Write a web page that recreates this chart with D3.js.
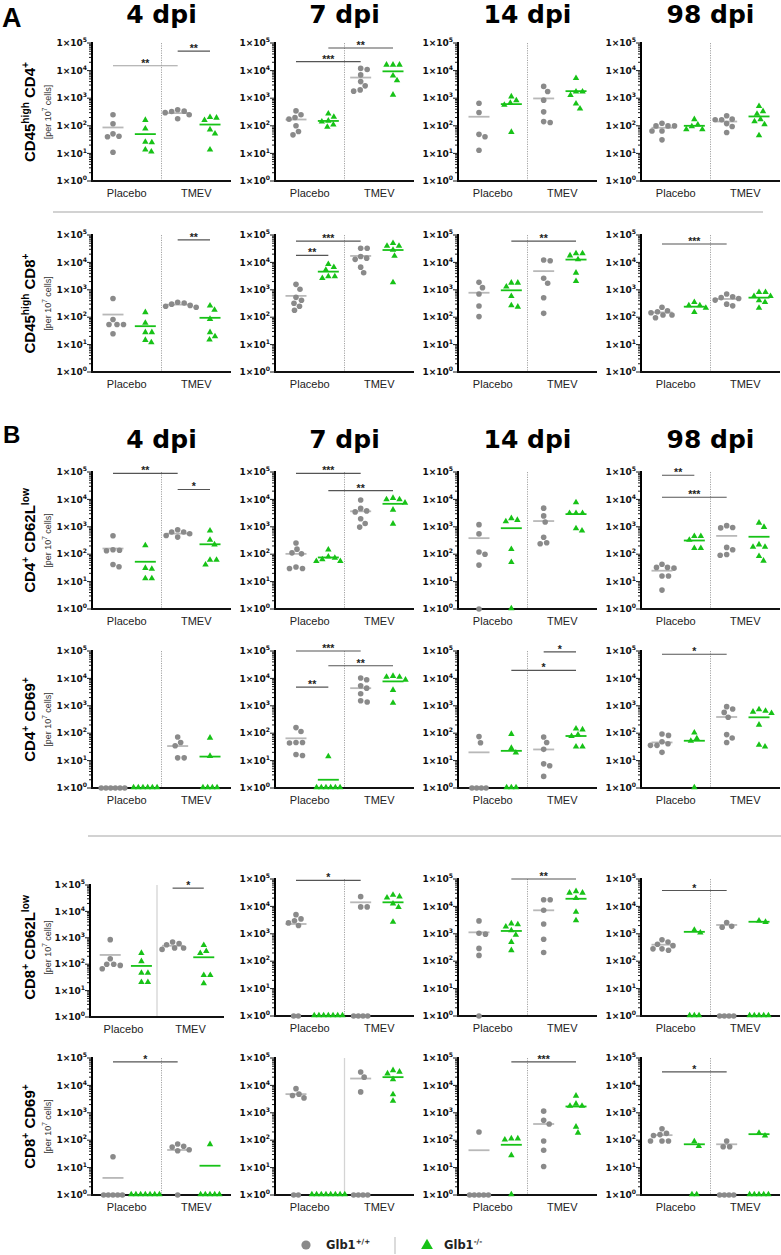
<!DOCTYPE html>
<html><head><meta charset="utf-8">
<script src="https://cdn.jsdelivr.net/npm/d3@7"></script>
<style>body{margin:0;background:#fff}svg{display:block}</style>
</head><body>
<svg id="c" width="781" height="1255"></svg>
<script>
// ---------------- DATA ----------------
const dpiLabels = ["4 dpi", "7 dpi", "14 dpi", "98 dpi"];
const treatments = ["Placebo", "TMEV"];
const genotypes = ["Glb1", "Glb1"];
const genotypeSup = ["+/+", "-/-"];
const yTickExponents = [0, 1, 2, 3, 4, 5];
const panelLetters = ["A", "B"];
// group order in every panel: [Glb1+/+ Placebo, Glb1-/- Placebo, Glb1+/+ TMEV, Glb1-/- TMEV]; 0 = not detected
const cd45hiCD4 = [
  [[250,118,51,42,40,11],[155,75,25,24,13,11],[330,300,340,380,250,180],[187,153,196,70,50,13]],
  [[347,200,174,250,100,62,47],[263,200,145,135,105,87],[11000,12000,7000,4000,2800,2000,1800],[15500,15500,15500,6300,4200,1270]],
  [[660,302,49,40,13],[1100,800,650,550,57],[2680,1750,850,320,142,131],[5130,1660,1660,1230,610,400]],
  [[99,99,124,99,65,65,31],[165,105,91,71,71],[230,174,165,165,120,94,57],[490,322,257,165,139,108,43]]
];
const cd45hiCD4Means = [[87,50,288,111],[169,150,5600,9400],[213,610,979,1800],[85,100,143,218]];
const cd45hiCD4Sig = [[[0,2,1.5e4,"**"],[2,3,5.1e4,"**"]],[[0,2,2.1e4,"***"],[1,3,6.6e4,"**"]],[],[]];

const cd45hiCD8 = [
  [[480,82,54,54,54,25],[145,59,27,27,14,11.5],[350,300,330,270,250,230],[176,253,82,19,27,14.4]],
  [[1580,1050,530,415,323,250,180],[8300,6400,5100,2930,2930,2560],[33000,33000,12900,16500,14300,6700,4200],[48000,38000,38000,27500,16500,1780]],
  [[1870,1200,700,257,105],[1730,1730,1240,560,257,230],[11500,12300,2630,1730,515,138],[20300,20300,17100,12300,4000,1980]],
  [[158,146,173,230,120,120,96],[338,257,210,257,146],[520,480,560,700,420,300,260],[780,780,560,560,390,338,210]]
];
const cd45hiCD8Means = [[125,47,288,95],[600,4600,17200,28300],[780,958,4800,12660],[149,242,463,517]];
const cd45hiCD8Sig = [[[2,3,6.6e4,"**"]],[[0,2,6e4,"***"],[0,1,1.8e4,"**"]],[[1,3,6e4,"**"]],[[0,2,4.7e4,"***"]]];

const cd4CD62Llow = [
  [[470,146,140,134,42,35],[200,30,28,12.5,12.5],[650,650,780,560,480,420],[690,320,215,59,40,59]],
  [[257,153,112,103,34,30,30],[141,78,70,62,53,53],[9500,4700,3800,3500,1960,1320,975],[10700,9500,9500,7200,4000,1230]],
  [[1200,550,120,99,40,0],[1960,1690,1500,146,49,0],[4800,2500,1500,415,263,240],[7400,3000,3000,3000,840,690]],
  [[31,33,33,43,16,16,4.9],[435,435,316,158,158],[910,940,1100,146,177,98,91],[1340,940,215,177,177,81,55]]
];
const cd4CD62LlowMeans = [[161,53,565,230],[103,76,3680,6900],[385,890,1620,2900],[25,316,466,433]];
const cd4CD62LlowSig = [[[0,2,8.9e4,"**"],[2,3,2.3e4,"*"]],[[0,2,8.9e4,"***"],[1,3,2.1e4,"**"]],[],[[0,1,7.6e4,"**"],[0,2,1.2e4,"***"]]];

const cd4CD69 = [
  [[0,0,0,0,0,0],[0,0,0,0,0,0],[73,46,35,12.6,12.6],[65,14,0,0,0,0]],
  [[160,116,46,46,44,16.6,15.4],[13.7,0,0,0,0,0,0],[10400,8900,5400,4400,2760,1530,1370],[11700,10800,10800,8500,3600,1220]],
  [[75,45,0,0,0,0],[89,27.5,18.6,0,0,0],[73,46,25.7,7.6,6.5,2.65],[140,130,85,75,31,31]],
  [[93,83,49,41,36,36,20],[100,62,50,0],[930,760,575,380,89,67,46],[705,625,515,580,194,36,31]]
];
const cd4CD69Means = [[null,null,34,14],[65,2,4400,7770],[20,22.7,25.5,79],[46,53,390,380]];
const cd4CD69Sig = [[],[[0,2,1e5,"***"],[1,3,2.9e4,"**"],[0,1,4.8e3,"**"]],[[2,3,9.3e4,"*"],[1,3,1.95e4,"*"]],[[0,2,7.6e4,"*"]]];

const cd8CD62Llow = [
  [[850,160,100,90,100,67],[253,123,45,45,20,20],[545,610,690,410,363,410],[500,300,250,37,37,18]],
  [[5000,3500,3000,2500,2000,0,0],[0,0,0,0,0,0,0],[22700,9600,9600,0,0,0,0],[25000,22000,20000,12000,9000,2600]],
  [[2960,1050,970,293,163,0],[2270,2100,1740,1270,870,480,240],[17500,17500,7200,2270,630,208],[34000,30000,30000,19000,6000,2960]],
  [[415,370,505,610,282,282,252],[1320,1050,0,0,0],[2570,1870,1740,0,0,0,0],[2880,2570,0,0,0,0,0]]
];
const cd8CD62LlowMeans = [[224,86,500,183],[2280,null,14100,14100],[1130,1270,7200,19000],[400,1180,2100,2750]];
const cd8CD62LlowSig = [[[2,3,7.6e4,"*"]],[[0,2,8.9e4,"*"]],[[1,3,1e5,"**"]],[[0,2,3.8e4,"*"]]];

const cd8CD69 = [
  [[25,0,0,0,0,0],[0,0,0,0,0,0,0],[56,60,73,45,41,0],[68,0,0,0,0,0]],
  [[7600,4800,4300,3500,0,0],[0,0,0,0,0,0,0,0],[31000,20000,5800,0,0,0,0],[34000,30000,26000,16000,4500,2600]],
  [[200,0,0,0,0,0],[110,100,110,27,0],[1150,530,390,93,43,11],[4000,2040,1700,1700,295,178]],
  [[148,160,178,263,93,93,93],[86,58,0,0],[58,93,58,0,0,0,0],[175,140,0,0,0,0,0]]
];
const cd8CD69Means = [[4.2,null,44,11.7],[4800,null,17800,20000],[43,68,390,1700],[153,71,71,166]];
const cd8CD69Sig = [[[0,2,7.2e4,"*"]],[],[[1,3,7.2e4,"***"]],[[0,2,3.1e4,"*"]]];

// row labels: [text, isSuperscript]
const rowLabelCD45CD4 = [["CD45",0],["high",1],[" CD4",0],["+",1]];
const rowLabelCD45CD8 = [["CD45",0],["high",1],[" CD8",0],["+",1]];
const rowLabelCD4CD62L = [["CD4",0],["+",1],[" CD62L",0],["low",1]];
const rowLabelCD4CD69 = [["CD4",0],["+",1],[" CD69",0],["+",1]];
const rowLabelCD8CD62L = [["CD8",0],["+",1],[" CD62L",0],["low",1]];
const rowLabelCD8CD69 = [["CD8",0],["+",1],[" CD69",0],["+",1]];
const unitLabel = [["[per 10",0],["7",1],[" cells]",0]];

// ---------------- LAYOUT / STYLE ----------------
const GREY = "#8a8a8a", GREY_LINE = "#b8b8b8", GREEN = "#17c217";
const colX = [92, 275, 458, 641], panelW = 139;
const rows = [
  {data: cd45hiCD4, means: cd45hiCD4Means, sig: cd45hiCD4Sig, label: rowLabelCD45CD4, top: 43, bottom: 181},
  {data: cd45hiCD8, means: cd45hiCD8Means, sig: cd45hiCD8Sig, label: rowLabelCD45CD8, top: 235, bottom: 372},
  {data: cd4CD62Llow, means: cd4CD62LlowMeans, sig: cd4CD62LlowSig, label: rowLabelCD4CD62L, top: 472, bottom: 609},
  {data: cd4CD69, means: cd4CD69Means, sig: cd4CD69Sig, label: rowLabelCD4CD69, top: 651, bottom: 788},
  {data: cd8CD62Llow, means: cd8CD62LlowMeans, sig: cd8CD62LlowSig, label: rowLabelCD8CD62L, top: 879, bottom: 1016},
  {data: cd8CD69, means: cd8CD69Means, sig: cd8CD69Sig, label: rowLabelCD8CD69, top: 1058, bottom: 1195}
];
const overrides = {"4-0": {x: 90, w: 134, top: 885, bottom: 1017}};
const solidDividers = new Set(["4-0", "5-1"]);
const lightBars = new Set(["0-0-0"]);

const svg = d3.select("#c");
const SANS = "'Liberation Sans', Arial, sans-serif";
const WIDE = "'DejaVu Sans', sans-serif";

function rich(textSel, parts, size, supScale = 0.66, supShift = 0.42) {
  let prevSup = false;
  parts.forEach(([t, sup]) => {
    const ts = textSel.append("tspan").text(t);
    if (sup && !prevSup) ts.attr("dy", -size * supShift);
    if (!sup && prevSup) ts.attr("dy", size * supShift);
    if (sup) ts.attr("font-size", size * supScale);
    prevSup = !!sup;
  });
}

function swarm(ys, D) {
  const idx = ys.map((y, i) => i).sort((a, b) => ys[a] - ys[b]);
  const placed = [], off = new Array(ys.length).fill(0);
  for (const i of idx) {
    let best = 0;
    for (let k = 0; k < 400; k++) {
      const c = (k % 2 === 1 ? 1 : -1) * Math.ceil(k / 2) * 0.5;
      if (placed.every(p => (p.x - c) ** 2 + (p.y - ys[i]) ** 2 >= D * D)) { best = c; break; }
    }
    off[i] = best; placed.push({x: best, y: ys[i]});
  }
  return off;
}

const tri = d3.symbol().type(d3.symbolTriangle).size(18);

rows.forEach((row, ri) => {
  dpiLabels.forEach((dpi, ci) => {
    const ov = overrides[ri + "-" + ci] || {};
    const x0 = ov.x ?? colX[ci], w = ov.w ?? panelW;
    const top = ov.top ?? row.top, bottom = ov.bottom ?? row.bottom;
    const g = svg.append("g");
    const y = d3.scaleLog().domain([1, 1e5]).range([bottom, top]).clamp(true);
    const band = d3.scaleBand().domain(treatments).range([x0, x0 + w]);
    const sub = d3.scalePoint().domain([0, 1, 2, 3]).range([x0 + w * 0.151, x0 + w * 0.849]);
    const solid = solidDividers.has(ri + "-" + ci);

    // divider
    g.append("line").attr("x1", band("TMEV")).attr("x2", band("TMEV"))
      .attr("y1", top).attr("y2", bottom)
      .attr("stroke", solid ? "#d4d4d4" : "#9a9a9a")
      .attr("stroke-width", solid ? 1.3 : 0.9)
      .attr("stroke-dasharray", solid ? null : "1.2,1.2");

    // y axis with log ticks
    const ticks = [];
    for (let k = 0; k < 5; k++) for (let m = 1; m <= 9; m++) ticks.push({v: m * 10 ** k, major: m === 1});
    ticks.push({v: 1e5, major: true});
    g.selectAll(".tk").data(ticks).join("line")
      .attr("x1", d => x0 - (d.major ? 5 : 3)).attr("x2", x0)
      .attr("y1", d => y(d.v)).attr("y2", d => y(d.v))
      .attr("stroke", "#000").attr("stroke-width", 0.9);
    g.append("line").attr("x1", x0).attr("x2", x0).attr("y1", top - 1).attr("y2", bottom + 1)
      .attr("stroke", "#000").attr("stroke-width", 2);
    yTickExponents.forEach(e => {
      const t = g.append("text").attr("x", x0 - 5).attr("y", y(10 ** e) + 3.2)
        .attr("text-anchor", "end").attr("font-family", WIDE).attr("font-weight", "bold")
        .attr("font-size", 9).attr("fill", "#111");
      rich(t, [["1×10", 0], [String(e), 1]], 9, 0.68, 0.45);
    });
    // x axis
    g.append("line").attr("x1", x0 - 1).attr("x2", x0 + w).attr("y1", bottom).attr("y2", bottom)
      .attr("stroke", "#111").attr("stroke-width", 2);
    treatments.forEach(t => {
      g.append("text").attr("x", band(t) + band.bandwidth() / 2).attr("y", bottom + 15.5)
        .attr("text-anchor", "middle").attr("font-family", SANS).attr("font-size", 11)
        .attr("fill", "#222").text(t);
    });

    // mean lines
    row.means[ci].forEach((m, gi) => {
      if (m == null) return;
      g.append("line").attr("x1", sub(gi) - 10.5).attr("x2", sub(gi) + 10.5)
        .attr("y1", y(m)).attr("y2", y(m))
        .attr("stroke", gi % 2 ? GREEN : GREY_LINE).attr("stroke-width", 1.8);
    });

    // points
    row.data[ci].forEach((vals, gi) => {
      const cx = sub(gi);
      const pos = vals.filter(v => v > 0), zeros = vals.filter(v => v <= 0);
      const ys = pos.map(v => y(v));
      const off = swarm(ys, 6.2);
      const pts = pos.map((v, i) => ({x: cx + off[i], y: ys[i]}));
      zeros.forEach((v, i) => pts.push({x: cx + (i - (zeros.length - 1) / 2) * 4.7, y: y(1)}));
      if (gi % 2 === 0) {
        g.selectAll(null).data(pts).join("circle").attr("cx", d => d.x).attr("cy", d => d.y)
          .attr("r", 2.8).attr("fill", GREY);
      } else {
        g.selectAll(null).data(pts).join("path").attr("d", tri)
          .attr("transform", d => `translate(${d.x},${d.y - 0.5})`).attr("fill", GREEN);
      }
    });

    // significance bars
    row.sig[ci].forEach(([a, b, v, lab], si) => {
      const yy = y(v);
      const light = lightBars.has(ri + "-" + ci + "-" + si);
      g.append("line").attr("x1", sub(a)).attr("x2", sub(b)).attr("y1", yy).attr("y2", yy)
        .attr("stroke", light ? "#a0a0a0" : "#555").attr("stroke-width", 1.2);
      g.append("text").attr("x", (sub(a) + sub(b)) / 2).attr("y", yy + 1)
        .attr("text-anchor", "middle").attr("font-family", SANS).attr("font-weight", "bold")
        .attr("font-size", 10.5).attr("fill", "#222").text(lab);
    });

    // column titles
    if (ri === 0 || ri === 2) {
      svg.append("text").attr("x", x0 + w / 2).attr("y", ri === 0 ? 23 : 448)
        .attr("text-anchor", "middle").attr("font-family", WIDE).attr("font-weight", "bold")
        .attr("font-size", 25).attr("fill", "#000").text(dpi);
    }
  });

  // row labels
  const cy = (row.top + row.bottom) / 2;
  const t1 = svg.append("text").attr("transform", `translate(35,${cy}) rotate(-90)`)
    .attr("text-anchor", "middle").attr("font-family", SANS).attr("font-weight", "bold")
    .attr("font-size", 15).attr("fill", "#000");
  rich(t1, row.label, 15, 0.68, 0.42);
  const t2 = svg.append("text").attr("transform", `translate(51,${cy}) rotate(-90)`)
    .attr("text-anchor", "middle").attr("font-family", SANS)
    .attr("font-size", 9).attr("fill", "#333");
  rich(t2, unitLabel, 9, 0.7, 0.45);
});

// panel letters
svg.append("text").attr("x", 2).attr("y", 27).attr("font-family", SANS).attr("font-weight", "bold")
  .attr("font-size", 27).text(panelLetters[0]);
svg.append("text").attr("x", 3).attr("y", 443).attr("font-family", SANS).attr("font-weight", "bold")
  .attr("font-size", 24).text(panelLetters[1]);

// separators
svg.append("line").attr("x1", 53).attr("x2", 763).attr("y1", 212).attr("y2", 212)
  .attr("stroke", "#d2d2d2").attr("stroke-width", 1.8);
svg.append("line").attr("x1", 88).attr("x2", 781).attr("y1", 836).attr("y2", 836)
  .attr("stroke", "#d2d2d2").attr("stroke-width", 1.8);

// legend
const lg = svg.append("g");
lg.append("circle").attr("cx", 306).attr("cy", 1245).attr("r", 4.6).attr("fill", GREY);
const lt1 = lg.append("text").attr("x", 326).attr("y", 1249).attr("font-family", WIDE)
  .attr("font-weight", "bold").attr("font-size", 11.5).attr("fill", "#222");
rich(lt1, [[genotypes[0], 0], [genotypeSup[0], 1]], 11.5, 0.62, 0.45);
lg.append("line").attr("x1", 395).attr("x2", 395).attr("y1", 1237).attr("y2", 1254)
  .attr("stroke", "#cfcfcf").attr("stroke-width", 1.5);
lg.append("path").attr("d", d3.symbol().type(d3.symbolTriangle).size(60))
  .attr("transform", "translate(427,1245.5)").attr("fill", GREEN);
const lt2 = lg.append("text").attr("x", 444).attr("y", 1249).attr("font-family", WIDE)
  .attr("font-weight", "bold").attr("font-size", 11.5).attr("fill", "#222");
rich(lt2, [[genotypes[1], 0], [genotypeSup[1], 1]], 11.5, 0.62, 0.45);
</script>
</body></html>
